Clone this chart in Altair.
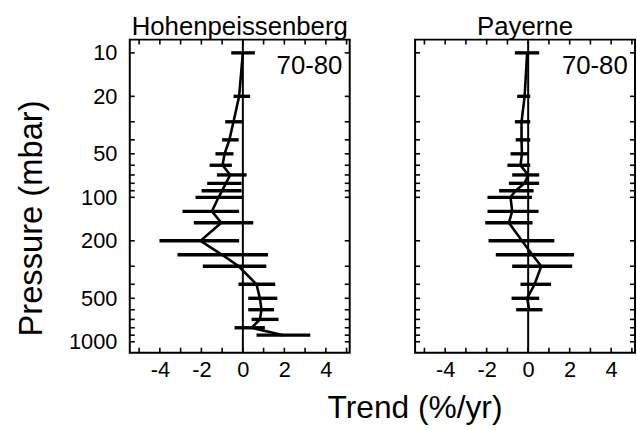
import altair as alt
import pandas as pd

FONT = "Liberation Sans"

# Hohenpeissenberg 1970-80 trends (%/yr) at pressure levels (mbar)
pressure_hohen = [10, 20, 30, 40, 50, 60, 70, 80, 90, 100, 125, 150, 200, 250, 300, 400, 500, 600, 700, 800, 900]
trend_hohen = [0.0, -0.18, -0.45, -0.65, -0.88, -0.98, -0.61, -0.82, -1.0, -1.17, -1.49, -1.04, -2.04, -1.0, -0.2,
               0.66, 0.82, 0.9, 0.82, 0.42, 1.95]
low_hohen = [-0.56, -0.45, -0.85, -1.0, -1.32, -1.6, -1.25, -1.72, -1.99, -2.28, -2.91, -2.36, -4.02, -3.15, -1.93,
             -0.21, 0.26, 0.26, 0.42, -0.4, 0.66]
high_hohen = [0.58, 0.35, 0.02, -0.2, -0.45, -0.53, 0.18, -0.06, -0.06, 0.0, -0.18, 0.5, -0.18, 1.21, 1.13,
              1.56, 1.66, 1.5, 1.72, 1.06, 3.25]

# Payerne 1970-80
pressure_payerne = [10, 20, 30, 40, 50, 60, 70, 80, 90, 100, 125, 150, 200, 250, 300, 400, 500, 600]
trend_payerne = [-0.05, -0.17, -0.32, -0.32, -0.3, -0.37, 0.0, -0.17, -0.61, -0.85, -0.77, -0.93, -0.3, 0.2, 0.63,
                 0.31, -0.05, 0.05]
low_payerne = [-0.64, -0.53, -0.64, -0.6, -0.85, -1.0, -0.77, -0.93, -1.4, -1.96, -1.96, -2.07, -1.91, -1.56, -0.77,
               -0.37, -0.8, -0.58]
high_payerne = [0.53, 0.1, 0.1, 0.1, 0.02, 0.1, 0.53, 0.53, 0.26, 0.18, 0.5, 0.21, 1.26, 2.21, 2.12, 1.1, 0.53, 0.69]

# axis labels / ticks
x_label_values = [-4, -2, 0, 2, 4]
x_tick_values = [-5, -4, -3, -2, -1, 0, 1, 2, 3, 4, 5]
y_label_values = [10, 20, 50, 100, 200, 500, 1000]
y_tick_values = [10, 20, 30, 40, 50, 60, 70, 80, 90, 100, 200, 300, 400, 500, 600, 700, 800, 900, 1000]
period_label = "70-80"

W, H = 222, 316
X_DOMAIN = [-5.45, 5.15]
Y_DOMAIN = [8.1, 1190]

xscale = alt.Scale(domain=X_DOMAIN, nice=False, zero=False)
yscale = alt.Scale(type="log", domain=Y_DOMAIN, reverse=True, nice=False)


def panel(name, pressure, trend, low, high, show_y):
    df = pd.DataFrame({"p": pressure, "trend": trend, "low": low, "high": high})
    xaxis = alt.Axis(values=x_label_values, ticks=False, tickSize=0, domain=False, grid=False,
                     labelFontSize=22, labelFont=FONT, labelColor="black", labelPadding=7,
                     labelExpr="'' + datum.value", title=None)
    if show_y:
        yaxis = alt.Axis(values=y_label_values, ticks=False, tickSize=0, domain=False, grid=False,
                         labelFontSize=22, labelFont=FONT, labelColor="black", labelPadding=13,
                         labelExpr="'' + datum.value",
                         title="Pressure (mbar)", titleFontSize=33, titleFont=FONT,
                         titleFontWeight="normal", titleColor="black", titlePadding=20,
                         titleY=H / 2 + 22)
    else:
        yaxis = None

    def X(field, **kw):
        return alt.X(f"{field}:Q", scale=xscale, axis=xaxis, **kw)

    def Y(field, **kw):
        return alt.Y(f"{field}:Q", scale=yscale, axis=yaxis, **kw)

    bars = alt.Chart(df).mark_rule(color="black", strokeWidth=3.4).encode(
        x=X("low"), x2="high", y=Y("p"))
    line = alt.Chart(df).mark_line(color="black", strokeWidth=2.6).encode(
        x=X("trend"), y=Y("p"), order="p:Q")
    zero = alt.Chart(pd.DataFrame({"z": [0]})).mark_rule(color="black", strokeWidth=2).encode(x=X("z"))

    ydf = pd.DataFrame({"v": y_tick_values})
    xdf = pd.DataFrame({"v": x_tick_values})
    tl = alt.Chart(ydf).mark_rule(color="black", strokeWidth=1.6).encode(
        y=Y("v"), x=alt.value(0), x2=alt.value(5))
    tr = alt.Chart(ydf).mark_rule(color="black", strokeWidth=1.6).encode(
        y=Y("v"), x=alt.value(W - 5), x2=alt.value(W))
    tt = alt.Chart(xdf).mark_rule(color="black", strokeWidth=1.6).encode(
        x=X("v"), y=alt.value(0), y2=alt.value(5))
    tb = alt.Chart(xdf).mark_rule(color="black", strokeWidth=1.6).encode(
        x=X("v"), y=alt.value(H - 5), y2=alt.value(H))

    ann = alt.Chart(pd.DataFrame({"t": [period_label], "x": [4.8], "y": [14.0]})).mark_text(
        align="right", baseline="alphabetic", fontSize=26, font=FONT, color="black").encode(
        x=X("x"), y=Y("y"), text="t:N")

    return alt.layer(zero, bars, line, tl, tr, tt, tb, ann).properties(
        width=W, height=H,
        title=alt.TitleParams(name, fontSize=26, font=FONT, fontWeight="normal", color="black",
                              anchor="middle", offset=-1))


left = panel("Hohenpeissenberg", pressure_hohen, trend_hohen, low_hohen, high_hohen, True)
right = panel("Payerne", pressure_payerne, trend_payerne, low_payerne, high_payerne, False)

chart = alt.hconcat(left, right, spacing=62).properties(
    title=alt.TitleParams("Trend (%/yr)", orient="bottom", anchor="middle", fontSize=32, font=FONT,
                          fontWeight="normal", color="black", dx=90, offset=12),
    padding={"left": 15, "top": 11, "right": 0, "bottom": 0},
    background="white",
).configure_view(stroke="black", strokeWidth=2)

chart.save("out.html", embed_options={"renderer": "svg", "actions": False})
